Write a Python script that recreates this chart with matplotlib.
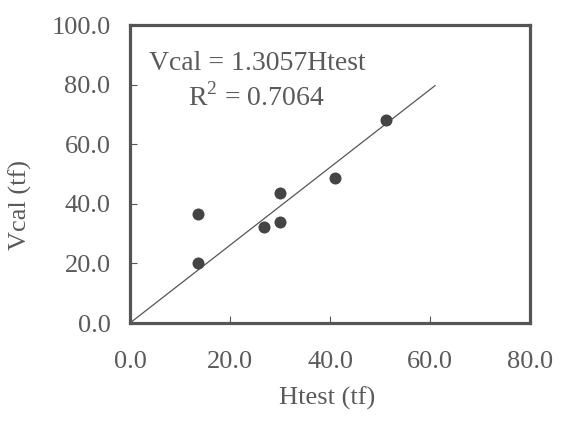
import matplotlib
matplotlib.use("Agg")
import matplotlib.pyplot as plt
import numpy as np

# Htest vs Vcal data points (tf)
htest = [13.5, 13.5, 26.8, 30.0, 30.0, 41.0, 51.2]
vcal = [36.6, 20.0, 32.3, 43.7, 34.0, 48.6, 68.1]

slope = 1.3057
r2 = 0.7064
fit_range = [0.0, 61.0]

x_ticks = [0, 20, 40, 60, 80]
y_ticks = [0, 20, 40, 60, 80, 100]

GRAY = "#555555"
TXT = "#5a5a5a"
FS = 19
plt.rcParams["font.family"] = ["Liberation Serif", "DejaVu Serif"]
plt.rcParams["mathtext.fontset"] = "custom"
plt.rcParams["mathtext.rm"] = "Liberation Serif"

fig = plt.figure(figsize=(5.62, 4.23), dpi=100)
ax = fig.add_axes([130 / 562, 1 - 323 / 423, 400 / 562, 298 / 423])

ax.scatter(htest, vcal, s=75, color="#444444", zorder=3, linewidths=0)
fx = np.array(fit_range)
ax.plot(fx, slope * fx, color=GRAY, linewidth=0.9, zorder=2)

ax.set_xlim(0, 80)
ax.set_ylim(0, 100)
ax.set_xticks(x_ticks)
ax.set_yticks(y_ticks)
ax.set_xticklabels([f"{v:.1f}" for v in x_ticks])
ax.set_yticklabels([f"{v:.1f}" for v in y_ticks])

ax.tick_params(axis="x", direction="in", length=5, width=0.8, color=GRAY,
               labelsize=FS, labelcolor=TXT, pad=20)
ax.tick_params(axis="y", direction="in", length=5, width=0.8, color=GRAY,
               labelsize=FS, labelcolor=TXT, pad=14)
for sp in ax.spines.values():
    sp.set_linewidth(2.3)
    sp.set_color(GRAY)

ax.text(25.5, 87.2, f"Vcal = {slope:.4f}Htest", ha="center", va="center",
        fontsize=20, color=TXT)
ax.text(25.3, 75.7, f"R$^2$ = {r2:.4f}", ha="center", va="center",
        fontsize=20, color=TXT)

fig.text(327 / 562, 1 - 398 / 423, "Htest (tf)", ha="center", va="center",
         fontsize=FS, color=TXT)
fig.text(20 / 562, 1 - 205 / 423, "Vcal (tf)", ha="center", va="center",
         rotation=90, fontsize=FS, color=TXT)

fig.savefig("out.png", dpi=100)
